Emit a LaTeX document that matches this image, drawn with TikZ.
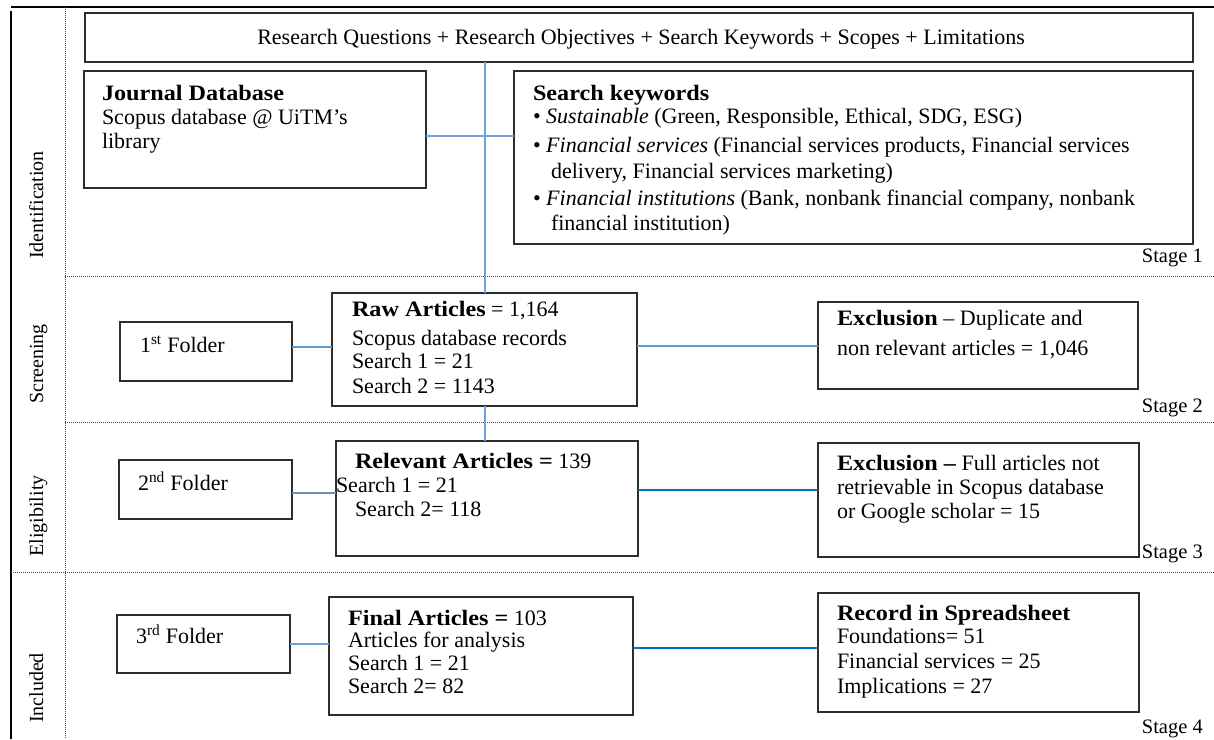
\documentclass[tikz,border=0pt]{standalone}
\usepackage{fontspec}
\setmainfont{Liberation Serif}
\newfontfamily\headfont[FakeStretch=1.1]{Liberation Serif}
\usetikzlibrary{calc}

\definecolor{boxline}{RGB}{45,45,45}
\definecolor{linkpale}{RGB}{110,163,222}
\definecolor{linkmid}{RGB}{91,155,213}
\definecolor{linkdark}{RGB}{0,112,192}
\definecolor{linkgrey}{RGB}{105,140,185}
\definecolor{rule}{RGB}{70,70,70}

% bold heading set a little wider
\newcommand{\boxhead}[1]{{\headfont\bfseries #1}}
% stacked lines whose first baseline is the node's baseline
\newcommand{\textrows}[1]{\begin{tabular}[t]{@{}l@{}}#1\end{tabular}}

\begin{document}
\begin{tikzpicture}[x=1pt,y=-1pt,
  box/.style={draw=boxline, line width=1.2pt, inner sep=0pt, outer sep=0pt, anchor=north west},
  txt/.style={anchor=base west, inner sep=0pt, outer sep=0pt, font=\fontsize{22}{24}\selectfont},
  stagelbl/.style={anchor=base east, inner sep=0pt, font=\fontsize{20.5}{24}\selectfont},
  phase/.style={anchor=base, rotate=90, inner sep=0pt, font=\fontsize{20}{24}\selectfont},
  divider/.style={draw=rule, line width=0.8pt, dash pattern=on 1pt off 1pt},
  link/.style={line width=1.5pt}
]
\useasboundingbox (0,0) rectangle (1214,739);

% outer frame and phase dividers
\draw[black, line width=1.3pt] (11,7) -- (1214,7);
\draw[black, line width=2pt] (11,11) -- (11,739);
\draw[divider] (65,7) -- (65,739);
\draw[divider] (65,276) -- (1214,276);
\draw[divider] (65,422) -- (1214,422);
\draw[divider] (11,572) -- (1214,572);

% phase names
\node[phase] (pid)  at (43,205) {Identification};
\node[phase] (pscr) at (43,364) {Screening};
\node[phase] (pel)  at (43,516) {Eligibility};
\node[phase] (pinc) at (43,688) {Included};

% stage marks
\node[stagelbl] (s1) at (1203,262) {Stage 1};
\node[stagelbl] (s2) at (1203,412) {Stage 2};
\node[stagelbl] (s3) at (1203,558) {Stage 3};
\node[stagelbl] (s4) at (1203,733) {Stage 4};

% ---- stage 1
\node[box, minimum width=1108, minimum height=49] (scope) at (85,13) {};
\node[txt, anchor=base] (scopetxt) at (641,44)
  {Research Questions + Research Objectives + Search Keywords + Scopes + Limitations};

\node[box, minimum width=342, minimum height=117] (journal) at (84,71) {};
\node[txt] (journaltxt) at (102,100)
  {\textrows{\boxhead{Journal Database}\\ Scopus database @ UiTM’s\\ library}};

\node[box, minimum width=679, minimum height=173] (keywords) at (514,71) {};
\node[txt] (keywordstxt) at (533,100)
  {\textrows{\boxhead{Search keywords}\\[-1pt]
   • \textit{Sustainable} (Green, Responsible, Ethical, SDG, ESG)\\[5pt]
   • \textit{Financial services} (Financial services products, Financial services\\[2pt]
   \hspace*{18pt}delivery, Financial services marketing)\\[3pt]
   • \textit{Financial institutions} (Bank, nonbank financial company, nonbank\\[1pt]
   \hspace*{18pt}financial institution)}};

% ---- stage 2
\node[box, minimum width=172, minimum height=59] (folder1) at (120,322) {};
\node[txt] (folder1txt) at (140,352) {1\textsuperscript{st} Folder};

\node[box, minimum width=305, minimum height=113] (raw) at (332,293) {};
\node[txt] (rawtxt) at (352,316)
  {\textrows{\boxhead{Raw Articles} = 1,164\\[5pt]
   Scopus database records\\[-1pt]
   Search 1 = 21\\[1pt]
   Search 2 = 1143}};

\node[box, minimum width=320, minimum height=87] (excl1) at (818,302) {};
\node[txt] (excl1txt) at (837,325)
  {\textrows{\boxhead{Exclusion} – Duplicate and\\[6pt]
   non relevant articles = 1,046}};

% ---- stage 3
\node[box, minimum width=173, minimum height=59] (folder2) at (119,460) {};
\node[txt] (folder2txt) at (138,490) {2\textsuperscript{nd} Folder};

\node[box, minimum width=302, minimum height=115] (relevant) at (336,441) {};
\node[txt] (relevanttxt) at (355,468)
  {\textrows{\boxhead{Relevant Articles =} 139\\
   \hspace*{-19pt}Search 1 = 21\\
   Search 2= 118}};

\node[box, minimum width=321, minimum height=114] (excl2) at (818,443) {};
\node[txt] (excl2txt) at (837,470)
  {\textrows{\boxhead{Exclusion –} Full articles not\\
   retrievable in Scopus database\\
   or Google scholar = 15}};

% ---- stage 4
\node[box, minimum width=173, minimum height=58] (folder3) at (117,615) {};
\node[txt] (folder3txt) at (136,643) {3\textsuperscript{rd} Folder};

\node[box, minimum width=304, minimum height=118] (final) at (329,597) {};
\node[txt] (finaltxt) at (348,625)
  {\textrows{\boxhead{Final Articles =} 103\\[-2pt]
   Articles for analysis\\[-1pt]
   Search 1 = 21\\[-1pt]
   Search 2= 82}};

\node[box, minimum width=321, minimum height=119] (record) at (818,593) {};
\node[txt] (recordtxt) at (837,620)
  {\textrows{\boxhead{Record in Spreadsheet}\\[-1pt]
   Foundations= 51\\[1pt]
   Financial services = 25\\[1pt]
   Implications = 27}};

% ---- connectors
\draw[link, linkpale, line width=2pt] (raw.north) -- (raw.north |- scope.south);
\draw[link, linkpale, line width=2pt] (raw.south) -- (raw.south |- relevant.north);

\coordinate (jk) at ([yshift=-6.5pt]journal.east);
\draw[link, linkpale] (jk) -- (jk -| keywords.west);

\coordinate (f1) at ([yshift=4.5pt]folder1.east);
\draw[link, linkmid] (f1) -- (f1 -| raw.west);
\coordinate (re) at ([yshift=3.5pt]raw.east);
\draw[link, linkmid] (re) -- (re -| excl1.west);

\coordinate (f2) at ([yshift=-3.5pt]folder2.east);
\draw[link, linkgrey, line width=1.1pt] (f2) -- (f2 -| relevant.west);
\coordinate (rl) at ([yshift=8.5pt]relevant.east);
\draw[link, linkdark, line width=1.2pt] (rl) -- (rl -| excl2.west);

\draw[link, linkpale] (folder3.east) -- (folder3.east -| final.west);
\coordinate (fr) at ([yshift=8pt]final.east);
\draw[link, linkdark, line width=1.2pt] (fr) -- (fr -| record.west);
\end{tikzpicture}
\end{document}
